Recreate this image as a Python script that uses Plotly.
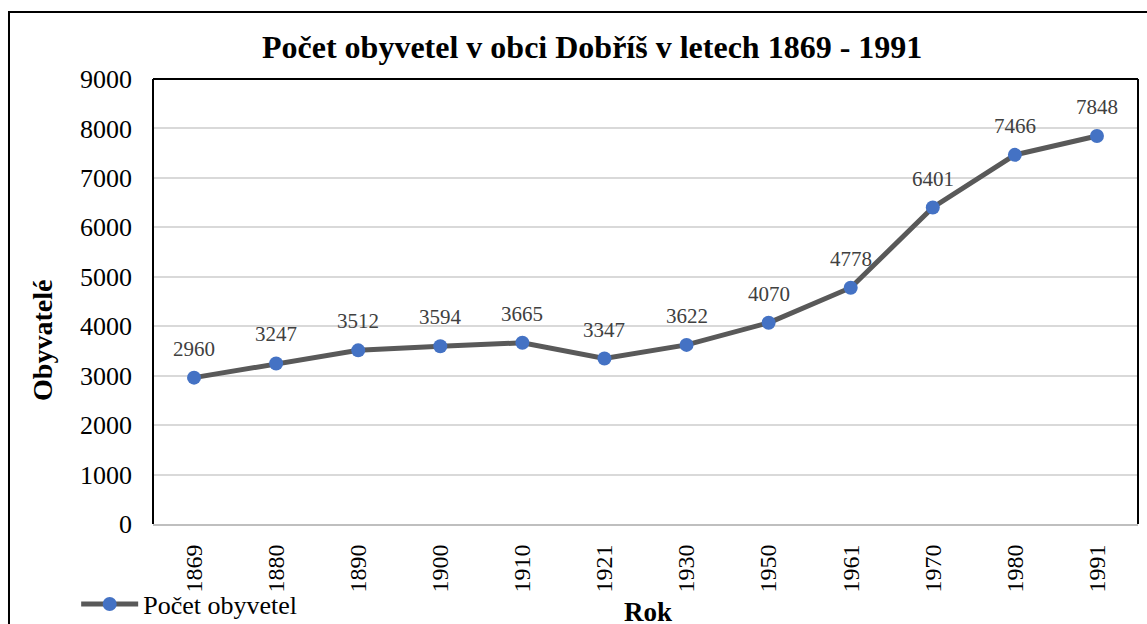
import plotly.graph_objects as go

years = ["1869", "1880", "1890", "1900", "1910", "1921", "1930", "1950", "1961", "1970", "1980", "1991"]
population = [2960, 3247, 3512, 3594, 3665, 3347, 3622, 4070, 4778, 6401, 7466, 7848]
y_ticks = [0, 1000, 2000, 3000, 4000, 5000, 6000, 7000, 8000, 9000]

title_text = "Počet obyvetel v obci Dobříš v letech 1869 - 1991"
series_name = "Počet obyvetel"
x_title = "Rok"
y_title = "Obyvatelé"

FONT = "Liberation Serif"

fig = go.Figure()
fig.add_trace(go.Scatter(
    x=years, y=population, name=series_name, mode="lines+markers",
    line=dict(color="#595959", width=5),
    marker=dict(color="#4472C4", size=14),
))

annotations = []
for i, v in enumerate(population):
    annotations.append(dict(x=i, y=v, xref="x", yref="y", text=str(v), showarrow=False,
                            xanchor="center", yanchor="middle",
                            yshift=29, font=dict(family=FONT, size=21, color="#404040")))

annotations.append(dict(text="<b>" + x_title + "</b>", x=0.5025, y=-0.197, xref="paper", yref="paper",
                        xanchor="center", yanchor="middle",
                        showarrow=False, font=dict(family=FONT, size=27, color="black")))
annotations.append(dict(text="<b>" + y_title + "</b>", x=-0.1117, y=0.4135, xref="paper", yref="paper",
                        xanchor="center", yanchor="middle",
                        showarrow=False, textangle=-90, font=dict(family=FONT, size=28, color="black")))
annotations.append(dict(text="<b>" + title_text + "</b>", x=0.4457, y=1.072, xref="paper", yref="paper",
                        xanchor="center", yanchor="middle",
                        showarrow=False, font=dict(family=FONT, size=32, color="black")))

shapes = [
    dict(type="rect", xref="paper", yref="paper", x0=-0.1462, x1=1.05, y0=-0.4, y1=1.1506,
         line=dict(color="black", width=2), layer="below"),
    dict(type="line", xref="paper", yref="paper", x0=0, x1=0, y0=0, y1=1, line=dict(color="black", width=2)),
    dict(type="line", xref="paper", yref="paper", x0=0, x1=1, y0=1, y1=1, line=dict(color="black", width=2)),
    dict(type="line", xref="paper", yref="paper", x0=1, x1=1, y0=0, y1=1, line=dict(color="black", width=2)),
]

fig.update_layout(
    width=1147, height=624,
    margin=dict(l=153, r=9, t=79, b=100, autoexpand=False),
    paper_bgcolor="white", plot_bgcolor="white",
    font=dict(family=FONT, color="black"),
    showlegend=True,
    legend=dict(x=-0.078, y=-0.18, xanchor="left", yanchor="middle", orientation="h",
                itemwidth=57,
                font=dict(family=FONT, size=26, color="black"), bgcolor="rgba(0,0,0,0)"),
    annotations=annotations,
    shapes=shapes,
    xaxis=dict(type="category", range=[-0.5, len(years) - 0.5], autorange=False, tickangle=-90,
               showgrid=False, showline=True, linecolor="#bfbfbf", automargin=False,
               linewidth=2, ticks="", tickfont=dict(family=FONT, size=24, color="black"),
               ticklabelstandoff=9, zeroline=False),
    yaxis=dict(range=[0, 9000], tickvals=y_ticks, showgrid=True, gridcolor="#d9d9d9", gridwidth=1.5,
               showline=False, zeroline=False, ticks="", automargin=False,
               tickfont=dict(family=FONT, size=26, color="black"),
               ticklabelstandoff=20),
)

fig.write_html("out.html", config={"displayModeBar": False},
               post_script="document.body.style.margin='0';")
